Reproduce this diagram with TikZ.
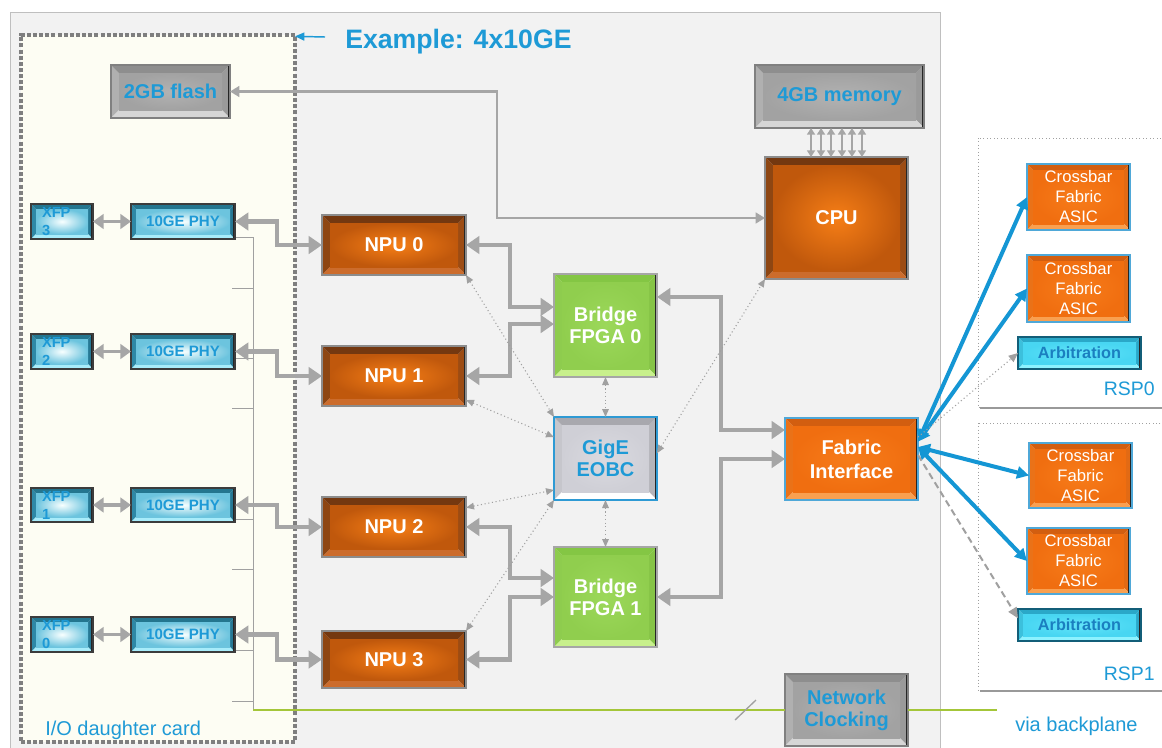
\documentclass[tikz,border=0pt]{standalone}
\usepackage{fontspec}
\setmainfont{Liberation Sans}
\usetikzlibrary{arrows.meta,calc}

% ---------- colours ----------
\definecolor{txtblue}{HTML}{1E9AD6}
\definecolor{panelbg}{HTML}{F2F2F2}
\definecolor{panelln}{HTML}{BFBFBF}
\definecolor{iofill}{HTML}{FDFDF3}
\definecolor{iodots}{HTML}{7F7F7F}
\definecolor{conn}{HTML}{A6A6A6}
\definecolor{dotc}{HTML}{A0A0A0}
\definecolor{fabblue}{HTML}{1496D4}
\definecolor{clkgreen}{HTML}{A4C639}
% NPU / CPU
\definecolor{npuC}{HTML}{F67E16}\definecolor{npuO}{HTML}{C0580C}
\definecolor{npuT}{HTML}{743810}\definecolor{npuB}{HTML}{CC6C2C}
\definecolor{npuL}{HTML}{8E4612}\definecolor{npuR}{HTML}{9C4C14}
\definecolor{npuEdge}{HTML}{8C8C8C}
% fabric / crossbar
\definecolor{fabC}{HTML}{F77C1A}\definecolor{fabO}{HTML}{F06E10}
\definecolor{fabT}{HTML}{D25E10}\definecolor{fabB}{HTML}{F9A050}
\definecolor{fabL}{HTML}{EA7218}\definecolor{fabR}{HTML}{E26A14}
\definecolor{fabEdge}{HTML}{4FA8D8}
% bridge
\definecolor{brC}{HTML}{9CD85A}\definecolor{brO}{HTML}{90CE4E}
\definecolor{brT}{HTML}{84C644}\definecolor{brB}{HTML}{C8F08C}
\definecolor{brL}{HTML}{8ECC4E}\definecolor{brR}{HTML}{86C446}
\definecolor{brEdge}{HTML}{A6A6A6}
% GigE
\definecolor{geC}{HTML}{DADAE0}\definecolor{geO}{HTML}{CFCFD6}
\definecolor{geT}{HTML}{A8A8AE}\definecolor{geB}{HTML}{FFFFFF}
\definecolor{geL}{HTML}{C6C6CC}\definecolor{geR}{HTML}{B4B4BA}
\definecolor{geEdge}{HTML}{2E9AD4}
% grey boxes
\definecolor{gyC}{HTML}{B2B2B2}\definecolor{gyO}{HTML}{A2A2A2}
\definecolor{gyT}{HTML}{8E8E8E}\definecolor{gyB}{HTML}{D6D6D6}
\definecolor{gyL}{HTML}{B0B0B0}\definecolor{gyR}{HTML}{9A9A9A}
\definecolor{gyEdge}{HTML}{808080}
% teal (XFP / PHY)
\definecolor{tlC}{HTML}{F8FFFF}\definecolor{tlO}{HTML}{6CC4DE}
\definecolor{tlT}{HTML}{24768F}\definecolor{tlB}{HTML}{A8ECFA}
\definecolor{tlL}{HTML}{2E88A6}\definecolor{tlR}{HTML}{267894}
\definecolor{tlEdge}{HTML}{3C3C3C}
% arbitration
\definecolor{abC}{HTML}{62E4F9}\definecolor{abO}{HTML}{48D6F2}
\definecolor{abT}{HTML}{2AA8C8}\definecolor{abB}{HTML}{8CF2FF}
\definecolor{abL}{HTML}{3CC0DC}\definecolor{abR}{HTML}{2AA8C8}
\definecolor{abEdge}{HTML}{135E78}\definecolor{abTxt}{HTML}{1A7FC0}

\tikzset{
  bevsz/.store in=\bevsz, bevsz=4.5pt,
  % bevelled block face: {centre}{outer}{top}{bottom}{left}{right}
  bevel/.style n args={6}{path picture={
      \coordinate (bvsw) at (path picture bounding box.south west);
      \coordinate (bvne) at (path picture bounding box.north east);
      \coordinate (bvnw) at (bvsw|-bvne);
      \coordinate (bvse) at (bvne|-bvsw);
      \coordinate (bisw) at ($(bvsw)+(\bevsz,\bevsz)$);
      \coordinate (bine) at ($(bvne)+(-\bevsz,-\bevsz)$);
      \coordinate (binw) at (bisw|-bine);
      \coordinate (bise) at (bine|-bisw);
      \fill[#5] (bvsw) -- (bisw) -- (binw) -- (bvnw) -- cycle;
      \fill[#6] (bvse) -- (bise) -- (bine) -- (bvne) -- cycle;
      \fill[#3] (bvnw) -- (binw) -- (bine) -- (bvne) -- cycle;
      \fill[#4] (bvsw) -- (bisw) -- (bise) -- (bvse) -- cycle;
      \shade[inner color=#1, outer color=#2] (bisw) rectangle (bine);
      \draw[line width=3pt, black!85] (bvse) -- (bvne);
  }},
  blkbase/.style={rectangle, inner sep=0pt, outer sep=0pt, align=center},
  npubox/.style={blkbase, bevsz=6pt, bevel={npuC}{npuO}{npuT}{npuB}{npuL}{npuR},
    draw=npuEdge, line width=0.9pt, text=white, font=\bfseries\fontsize{15}{17}\selectfont},
  fabbox/.style={blkbase, bevsz=6pt, bevel={fabC}{fabO}{fabT}{fabB}{fabL}{fabR},
    draw=fabEdge, line width=1.2pt, text=white, font=\bfseries\fontsize{15}{18}\selectfont},
  xbarbox/.style={blkbase, bevsz=4.5pt, bevel={fabC}{fabO}{fabT}{fabB}{fabL}{fabR},
    draw=fabEdge, line width=1.2pt, text=white, font=\fontsize{12.5}{15}\selectfont},
  bridgebox/.style={blkbase, bevsz=6pt, bevel={brC}{brO}{brT}{brB}{brL}{brR},
    draw=brEdge, line width=0.9pt, text=white, font=\bfseries\fontsize{15}{16.5}\selectfont},
  gigebox/.style={blkbase, bevsz=6pt, bevel={geC}{geO}{geT}{geB}{geL}{geR},
    draw=geEdge, line width=1.2pt, text=txtblue, font=\bfseries\fontsize{15}{16.5}\selectfont},
  greybox/.style={blkbase, bevsz=6pt, bevel={gyC}{gyO}{gyT}{gyB}{gyL}{gyR},
    draw=gyEdge, line width=1.2pt, text=txtblue, font=\bfseries\fontsize{15}{16.5}\selectfont},
  phybox/.style={blkbase, bevsz=3.75pt, bevel={tlC}{tlO}{tlT}{tlB}{tlL}{tlR},
    draw=tlEdge, line width=0.9pt, text=txtblue, font=\bfseries\fontsize{11.3}{13}\selectfont},
  xfpbox/.style={phybox, font=\bfseries\fontsize{11}{13.5}\selectfont, text width=30pt, align=left},
  arbbox/.style={blkbase, bevsz=3.75pt, bevel={abC}{abO}{abT}{abB}{abL}{abR},
    draw=abEdge, line width=1.2pt, text=abTxt, font=\bfseries\fontsize{12.2}{14}\selectfont},
  iocardbox/.style={rectangle, inner sep=0pt, outer sep=0pt, fill=iofill, draw=iodots,
    line width=3pt, dash pattern=on 3pt off 1.6pt},
  lbl/.style={text=txtblue, inner sep=0pt, font=\fontsize{15}{17}\selectfont},
  % connectors
  fat/.style={draw=conn, line width=3.5pt,
    {Triangle[length=10pt,width=13pt]}-{Triangle[length=10pt,width=13pt]}},
  xfplink/.style={draw=conn, line width=2.6pt,
    {Triangle[length=8pt,width=11pt]}-{Triangle[length=8pt,width=11pt]}},
  flashlink/.style={draw=conn, line width=2.2pt,
    {Triangle[length=7pt,width=8pt]}-{Triangle[length=7pt,width=8pt]}},
  memlink/.style={draw=conn, line width=1.8pt,
    {Triangle[length=5pt,width=6pt]}-{Triangle[length=5pt,width=6pt]}},
  dotlink/.style={draw=dotc, line width=0.8pt, dotted,
    {Triangle[length=6pt,width=5pt]}-{Triangle[length=6pt,width=5pt]}},
  bluelink/.style={draw=fabblue, line width=3pt,
    {Triangle[length=9pt,width=9pt]}-{Triangle[length=9pt,width=9pt]}},
  busln/.style={draw=dotc, line width=0.75pt},
  clkln/.style={draw=clkgreen, line width=1pt},
}

% block given by its pixel corners: name, x1, y1, x2, y2, style, text
\newcommand\blk[7]{\node[#6, minimum width={(#4-#2)*0.75pt}, minimum height={(#5-#3)*0.75pt}] (#1) at ({(#2+#4)/2},{(#3+#5)/2}) {#7};}

\begin{document}
\begin{tikzpicture}[x=0.75pt, y=-0.75pt]
\useasboundingbox (0,0) rectangle (1162,747);
\fill[white] (0,0) rectangle (1162,747);

% line card panel
\draw[panelln, fill=panelbg, line width=0.75pt] (10,12) rectangle (940,775);

% route switch processor cards
\draw[dotc, dotted, fill=white, line width=0.6pt] (978,138) rectangle (1180,407);
\draw[draw=gray!80, line width=1.6pt] (980,408) -- (1180,408);
\draw[dotc, dotted, fill=white, line width=0.6pt] (978,423) rectangle (1180,690);
\draw[draw=gray!80, line width=1.6pt] (980,691) -- (1180,691);

% I/O daughter card
\blk{iocard}{21}{35}{295}{742}{iocardbox}{}

% backplane bus inside the daughter card
\coordinate (bustop) at (253,237);
\coordinate (busend) at (253,710);
\draw[busln] (bustop) -- (busend);
\draw[busln] (235,237) -- (bustop);
\foreach \yy in {288,358,408,519,569,650,701}
  \draw[busln] (232,\yy) -- (253,\yy);

% ---------- blocks ----------
\blk{flash}{111}{65}{230}{118}{greybox}{2GB flash}
\blk{mem}{755}{65}{924}{128}{greybox}{4GB memory}
\blk{cpu}{765}{157}{908}{279}{npubox}{CPU}

\blk{xfp3}{31}{204}{93}{239}{xfpbox}{XFP\\3}
\blk{phy3}{131}{204}{235}{239}{phybox}{10GE PHY}
\blk{xfp2}{31}{334}{93}{369}{xfpbox}{XFP\\2}
\blk{phy2}{131}{334}{235}{369}{phybox}{10GE PHY}
\blk{xfp1}{31}{488}{93}{522}{xfpbox}{XFP\\1}
\blk{phy1}{131}{488}{235}{522}{phybox}{10GE PHY}
\blk{xfp0}{31}{617}{93}{652}{xfpbox}{XFP\\0}
\blk{phy0}{131}{617}{235}{652}{phybox}{10GE PHY}

\blk{npu0}{322}{215}{466}{275}{npubox}{NPU 0}
\blk{npu1}{322}{346}{466}{406}{npubox}{NPU 1}
\blk{npu2}{322}{497}{466}{557}{npubox}{NPU 2}
\blk{npu3}{322}{631}{466}{688}{npubox}{NPU 3}

\blk{bridge0}{554}{274}{657}{377}{bridgebox}{Bridge\\FPGA 0}
\blk{gige}{554}{417}{657}{500}{gigebox}{GigE\\EOBC}
\blk{bridge1}{554}{547}{657}{647}{bridgebox}{Bridge\\FPGA 1}

\blk{fabric}{785}{418}{918}{500}{fabbox}{Fabric\\Interface}

\blk{cb1}{1027}{164}{1130}{230}{xbarbox}{Crossbar\\Fabric\\ASIC}
\blk{cb2}{1027}{255}{1130}{322}{xbarbox}{Crossbar\\Fabric\\ASIC}
\blk{arb0}{1018}{337}{1141}{369}{arbbox}{Arbitration}
\blk{cb3}{1029}{443}{1132}{508}{xbarbox}{Crossbar\\Fabric\\ASIC}
\blk{cb4}{1027}{528}{1130}{594}{xbarbox}{Crossbar\\Fabric\\ASIC}
\blk{arb1}{1018}{609}{1141}{641}{arbbox}{Arbitration}

\blk{netclk}{785}{674}{908}{746}{greybox}{Network\\Clocking}

% ---------- labels ----------
\node[lbl, anchor=base west, font=\bfseries\fontsize{20}{22}\selectfont] (example) at (345,48) {Example: 4x10GE};
\node[lbl, anchor=base west] (iolabel) at (45,735) {I/O daughter card};
\node[lbl, anchor=base east, font=\fontsize{14.6}{17}\selectfont] (rsp0) at (1155,395) {RSP0};
\node[lbl, anchor=base east, font=\fontsize{14.6}{17}\selectfont] (rsp1) at (1155,680) {RSP1};
\node[lbl, anchor=base west] (backplane) at (1015,731) {via backplane};

\coordinate (extail) at (325,37);
\draw[txtblue, line width=1.1pt, -{Triangle[length=7pt,width=6pt]}] (extail) -- ([yshift=-1pt]iocard.north east);

% ---------- connectors ----------
% XFP <-> PHY
\foreach \i in {0,1,2,3}
  \draw[xfplink] (xfp\i.east) -- (phy\i.west);

% PHY <-> NPU
\draw[fat] (phy3.east) -| ($(npu0.west)+(-33.75pt,0pt)$) -- (npu0.west);
\draw[fat] (phy2.east) -| ($(npu1.west)+(-33.75pt,0pt)$) -- (npu1.west);
\draw[fat] (phy1.east) -| ($(npu2.west)+(-33.75pt,0pt)$) -- (npu2.west);
\draw[fat] (phy0.east) -| ($(npu3.west)+(-33.75pt,0pt)$) -- (npu3.west);

% NPU <-> bridge FPGAs
\draw[fat] (npu0.east) -| ($(bridge0.west)+(-33pt,13.9pt)$) -- ([yshift=13.9pt]bridge0.west);
\draw[fat] (npu1.east) -| ($(bridge0.west)+(-33pt,1.1pt)$) -- ([yshift=1.1pt]bridge0.west);
\draw[fat] (npu2.east) -| ($(bridge1.west)+(-33pt,14.25pt)$) -- ([yshift=14.25pt]bridge1.west);
\draw[fat] (npu3.east) -| ($(bridge1.west)+(-33pt,0pt)$) -- (bridge1.west);

% bridge FPGAs <-> fabric interface
\draw[fat] ([yshift=21.4pt]bridge0.east) -| ($(fabric.west)+(-48pt,21.75pt)$) -- ([yshift=21.75pt]fabric.west);
\draw[fat] (bridge1.east) -| ($(fabric.west)+(-48pt,0pt)$) -- (fabric.west);

% flash <-> CPU
\draw[flashlink] (flash.east) -| ($(cpu.west)+(-201pt,0pt)$) -- (cpu.west);

% memory <-> CPU bus
\foreach \dx in {-19.1,-11.6,-4.1,4.1,11.6,19.1}
  \draw[memlink] ([xshift=\dx pt]cpu.north) -- ([xshift=\dx pt]cpu.north |- mem.south);

% EOBC control links
\draw[dotlink] (npu0.south east) -- (gige.north west);
\draw[dotlink] ($(npu1.south east)+(0pt,4.5pt)$) -- ([yshift=16pt]gige.west);
\draw[dotlink] (bridge0.south) -- (gige.north);
\draw[dotlink] ([yshift=-8pt]npu2.north east) -- ([yshift=-23.6pt]gige.west);
\draw[dotlink] (npu3.north east) -- (gige.south west);
\draw[dotlink] (gige.south) -- (bridge1.north);
\draw[dotlink] ([yshift=4pt]gige.east) -- (cpu.south west);

% fabric interface -> RSP cards
\draw[bluelink] ([yshift=13pt]fabric.east) -- (cb1.west);
\draw[bluelink] ([yshift=13pt]fabric.east) -- (cb2.west);
\draw[bluelink] ([yshift=9pt]fabric.east) -- (cb3.west);
\draw[bluelink] ([yshift=9pt]fabric.east) -- (cb4.west);
\draw[draw=dotc, line width=0.8pt, dotted, -{Triangle[length=7pt,width=6pt]}]
  ([yshift=16.5pt]fabric.east) -- (arb0.west);
\draw[draw=dotc, line width=1.5pt, dash pattern=on 5pt off 3pt, -{Triangle[length=8pt,width=7pt]}]
  ([yshift=3pt]fabric.east) -- ([yshift=5pt]arb1.west);

% network clocking
\coordinate (clkend) at (997,710);
\draw[clkln] (busend) -- (netclk.west);
\draw[clkln] (netclk.east) -- (clkend);
\draw[draw=dotc, line width=1pt] (735,720) -- (756,700);

\end{tikzpicture}
\end{document}
